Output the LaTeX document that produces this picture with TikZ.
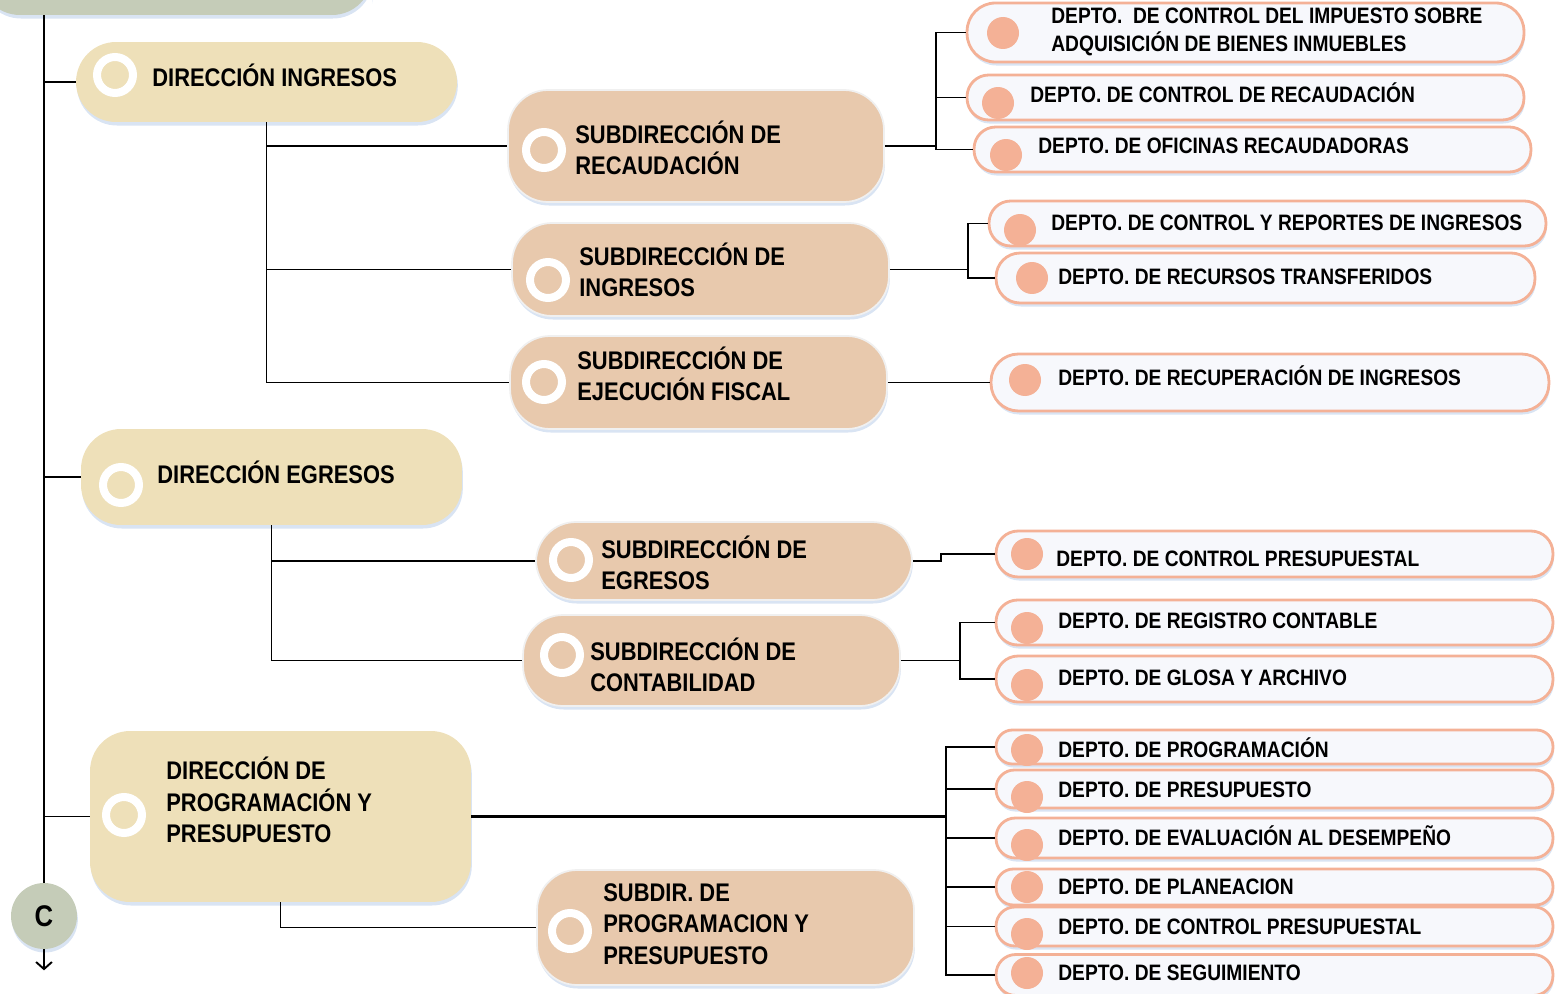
\documentclass[tikz,border=0pt]{standalone}
\usepackage{fontspec}
\setmainfont{Liberation Sans}[FakeStretch=0.86]
\usetikzlibrary{arrows.meta,shadows}
\definecolor{hojaverde}{HTML}{C5CCB8}
\definecolor{crema}{HTML}{EEE0B9}
\definecolor{arena}{HTML}{E8C9AD}
\definecolor{salmon}{HTML}{F4B196}
\definecolor{nube}{HTML}{F7F8FC}
\definecolor{sombra}{HTML}{C9D8EE}
\tikzset{
  sombrita/.style={drop shadow={shadow xshift=0.5pt, shadow yshift=-2pt, fill=sombra, opacity=0.7}},
  caja/.style={rectangle, inner sep=0pt, rounded corners=0.8cm, sombrita},
  direccion/.style={caja, fill=crema, minimum width=7.62cm},
  subdir/.style={caja, fill=arena, draw=gray!12, line width=1pt, minimum width=7.54cm},
  depto/.style={rectangle, inner sep=0pt, draw=salmon, line width=1.6pt, fill=nube,
    minimum width=11.14cm, minimum height=#1, rounded corners=0.48*#1, sombrita},
  anillo/.style={circle, draw=white, line width=0.16cm, fill=#1, minimum size=0.72cm, inner sep=0pt, sombrita},
  punto/.style={circle, fill=salmon, minimum size=0.64cm, inner sep=0pt},
  grande/.style={anchor=west, inner sep=0pt, align=left, font=\bfseries\fontsize{14.5}{18}\selectfont},
  chico/.style={anchor=west, inner sep=0pt, align=left, font=\bfseries\fontsize{12.7}{16}\selectfont},
  linea/.style={line width=1.1pt},
}
\begin{document}
\begin{tikzpicture}[x=0.02cm, y=-0.02cm]
	\useasboundingbox (0,0) rectangle (1557,993);
	
	% tronco
	\node[caja, fill=hojaverde, minimum width=7.84cm, minimum height=1.1cm] (top) at (176,-12.5) {};
	\node[circle, fill=hojaverde, minimum size=1.32cm, inner sep=0pt, sombrita, font=\bfseries\fontsize{17}{20}\selectfont] (C) at (44,916) {C};
	
	% direcciones
	\node[direccion, minimum height=1.6cm] (dirIng) at (266.5,82) {};
	\node[anillo=crema] (aDirIng) at (115,75) {};
	\node[grande] (tDirIng) at (152,75) {DIRECCIÓN INGRESOS};
	
	\node[direccion, minimum height=1.92cm] (dirEgr) at (271.5,477) {};
	\node[anillo=crema] (aDirEgr) at (121,485) {};
	\node[grande] (tDirEgr) at (157,472) {DIRECCIÓN EGRESOS};
	
	\node[direccion, minimum height=3.42cm] (dirProg) at (280.5,816.5) {};
	\node[anillo=crema] (aDirProg) at (124,815) {};
	\node[grande] (tDirProg) at (166,800) {DIRECCIÓN DE\\PROGRAMACIÓN Y\\PRESUPUESTO};
	
	% subdirecciones
	\node[subdir, minimum width=7.52cm, minimum height=2.24cm] (subRec) at (696,146) {};
	\node[anillo=arena] (aSubRec) at (544,150) {};
	\node[grande] (tSubRec) at (575,148) {SUBDIRECCIÓN DE\\RECAUDACIÓN};
	
	\node[subdir, minimum height=1.86cm] (subIng) at (700.5,269.5) {};
	\node[anillo=arena] (aSubIng) at (548,280) {};
	\node[grande] (tSubIng) at (579,270) {SUBDIRECCIÓN DE\\INGRESOS};
	
	\node[subdir, minimum height=1.86cm] (subEje) at (698.5,382.5) {};
	\node[anillo=arena] (aSubEje) at (544,382) {};
	\node[grande] (tSubEje) at (577,374) {SUBDIRECCIÓN DE\\EJECUCIÓN FISCAL};
	
	\node[subdir, minimum width=7.52cm, minimum height=1.56cm] (subEgr) at (724,561) {};
	\node[anillo=arena] (aSubEgr) at (571,560) {};
	\node[grande] (tSubEgr) at (601,563) {SUBDIRECCIÓN DE\\EGRESOS};
	
	\node[subdir, minimum height=1.82cm] (subCon) at (711.5,660.5) {};
	\node[anillo=arena] (aSubCon) at (562,655) {};
	\node[grande] (tSubCon) at (590,665) {SUBDIRECCIÓN DE\\CONTABILIDAD};
	
	\node[subdir, minimum height=2.3cm] (subProg) at (725.5,927.5) {};
	\node[anillo=arena] (aSubProg) at (570,931) {};
	\node[grande] (tSubProg) at (603,924) {SUBDIR. DE\\PROGRAMACION Y\\PRESUPUESTO};
	
	% departamentos
	\node[depto=1.18cm] (dA) at (1245.5,32.5) {};
	\node[punto] (pA) at (1003,33) {};
	\node[chico, font=\bfseries\fontsize{12.7}{15.8}\selectfont] (tA) at (1051,32) {DEPTO.\ \ DE CONTROL DEL IMPUESTO SOBRE\\ADQUISICIÓN DE BIENES INMUEBLES};
	
	\node[depto=0.9cm] (dB) at (1245.5,97.5) {};
	\node[punto] (pB) at (998,103) {};
	\node[chico] (tB) at (1030,93) {DEPTO. DE CONTROL DE RECAUDACIÓN};
	
	\node[depto=0.9cm] (dC) at (1252.5,149.5) {};
	\node[punto] (pC) at (1006,155) {};
	\node[chico] (tC) at (1038,146) {DEPTO. DE OFICINAS RECAUDADORAS};
	
	\node[depto=0.9cm] (dD) at (1267.5,223.5) {};
	\node[punto] (pD) at (1020,230) {};
	\node[chico] (tD) at (1051,223) {DEPTO. DE CONTROL Y REPORTES DE INGRESOS};
	
	\node[depto=1cm, minimum width=10.78cm] (dE) at (1265.5,278) {};
	\node[punto] (pE) at (1032,278) {};
	\node[chico] (tE) at (1058,277) {DEPTO. DE RECURSOS TRANSFERIDOS};
	
	\node[depto=1.14cm, minimum width=11.16cm] (dF) at (1270,382.5) {};
	\node[punto] (pF) at (1025,380) {};
	\node[chico] (tF) at (1058,376) {DEPTO. DE RECUPERACIÓN DE INGRESOS};
	
	\node[depto=0.92cm] (dG) at (1274.5,554) {};
	\node[punto] (pG) at (1027,554) {};
	\node[chico] (tG) at (1056,559) {DEPTO. DE CONTROL PRESUPUESTAL};
	
	\node[depto=0.9cm] (dH) at (1274.5,622.5) {};
	\node[punto] (pH) at (1027,628) {};
	\node[chico] (tH) at (1058,621) {DEPTO. DE REGISTRO CONTABLE};
	
	\node[depto=0.92cm] (dI) at (1274.5,679) {};
	\node[punto] (pI) at (1027,685) {};
	\node[chico] (tI) at (1058,678) {DEPTO. DE GLOSA Y ARCHIVO};
	
	\node[depto=0.68cm] (dJ) at (1274.5,747) {};
	\node[punto] (pJ) at (1027,750) {};
	\node[chico] (tJ) at (1058,748) {DEPTO. DE PROGRAMACIÓN};
	
	\node[depto=0.76cm] (dK) at (1274.5,789) {};
	\node[punto] (pK) at (1027,797) {};
	\node[chico] (tK) at (1058,790) {DEPTO. DE PRESUPUESTO};
	
	\node[depto=0.8cm] (dL) at (1274.5,838) {};
	\node[punto] (pL) at (1027,845) {};
	\node[chico] (tL) at (1058,836) {DEPTO. DE EVALUACIÓN AL DESEMPEÑO};
	
	\node[depto=0.72cm] (dM) at (1274.5,887) {};
	\node[punto] (pM) at (1027,887) {};
	\node[chico] (tM) at (1058,887) {DEPTO. DE PLANEACION};
	
	\node[depto=0.78cm] (dN) at (1274.5,926.5) {};
	\node[punto] (pN) at (1027,934) {};
	\node[chico] (tN) at (1058,927) {DEPTO. DE CONTROL PRESUPUESTAL};
	
	\node[depto=0.82cm] (dO) at (1274.5,975) {};
	\node[punto] (pO) at (1027,973) {};
	\node[chico] (tO) at (1058,973) {DEPTO. DE SEGUIMIENTO};
	
	% conectores
	\draw[linea] (C.north) -- (C.north |- top.south);
	\draw[linea] (C.north |- dirIng.west) -- (dirIng.west);
	\draw[linea] (C.north |- dirEgr.west) -- (dirEgr.west);
	\draw[linea] (C.north |- dirProg.west) -- (dirProg.west);
	\draw[linea, -{Straight Barb[length=4pt, width=9pt]}] (C.south) -- ++(0,21);
	
	\draw[linea] (dirIng.south) |- (subRec.west);
	\draw[linea] (dirIng.south) |- (subIng.west);
	\draw[linea] (dirIng.south) |- (subEje.west);
	\draw[linea] (dirEgr.south) |- (subEgr.west);
	\draw[linea] (dirEgr.south) |- (subCon.west);
	\draw[linea] (dirProg.south) |- (subProg.west);
	
	\coordinate (jRec) at (936,146);
	\draw[linea] (subRec.east) -- (jRec);
	\draw[linea] (jRec) |- (dA.west);
	\draw[linea] (jRec) |- (dB.west);
	\draw[linea] (jRec) |- (dC.west);
	
	\coordinate (jIng) at (968,269.5);
	\draw[linea] (subIng.east) -- (jIng);
	\draw[linea] (jIng) |- (dD.west);
	\draw[linea] (jIng) |- (dE.west);
	
	\draw[linea] (subEje.east) -- (dF.west);
	
	\coordinate (jEgr) at (941,561);
	\draw[linea] (subEgr.east) -- (jEgr) |- (dG.west);
	
	\coordinate (jCon) at (960,660.5);
	\draw[linea] (subCon.east) -- (jCon);
	\draw[linea] (jCon) |- (dH.west);
	\draw[linea] (jCon) |- (dI.west);
	
	\coordinate (jProg) at (946,816.5);
	\draw[line width=1.6pt] (dirProg.east) -- (jProg);
	\draw[linea] (jProg) |- (dJ.west);
	\draw[linea] (jProg) |- (dK.west);
	\draw[linea] (jProg) |- (dL.west);
	\draw[linea] (jProg) |- (dM.west);
	\draw[linea] (jProg) |- (dN.west);
	\draw[linea] (jProg) |- (dO.west);
	
\end{tikzpicture}
\end{document}
